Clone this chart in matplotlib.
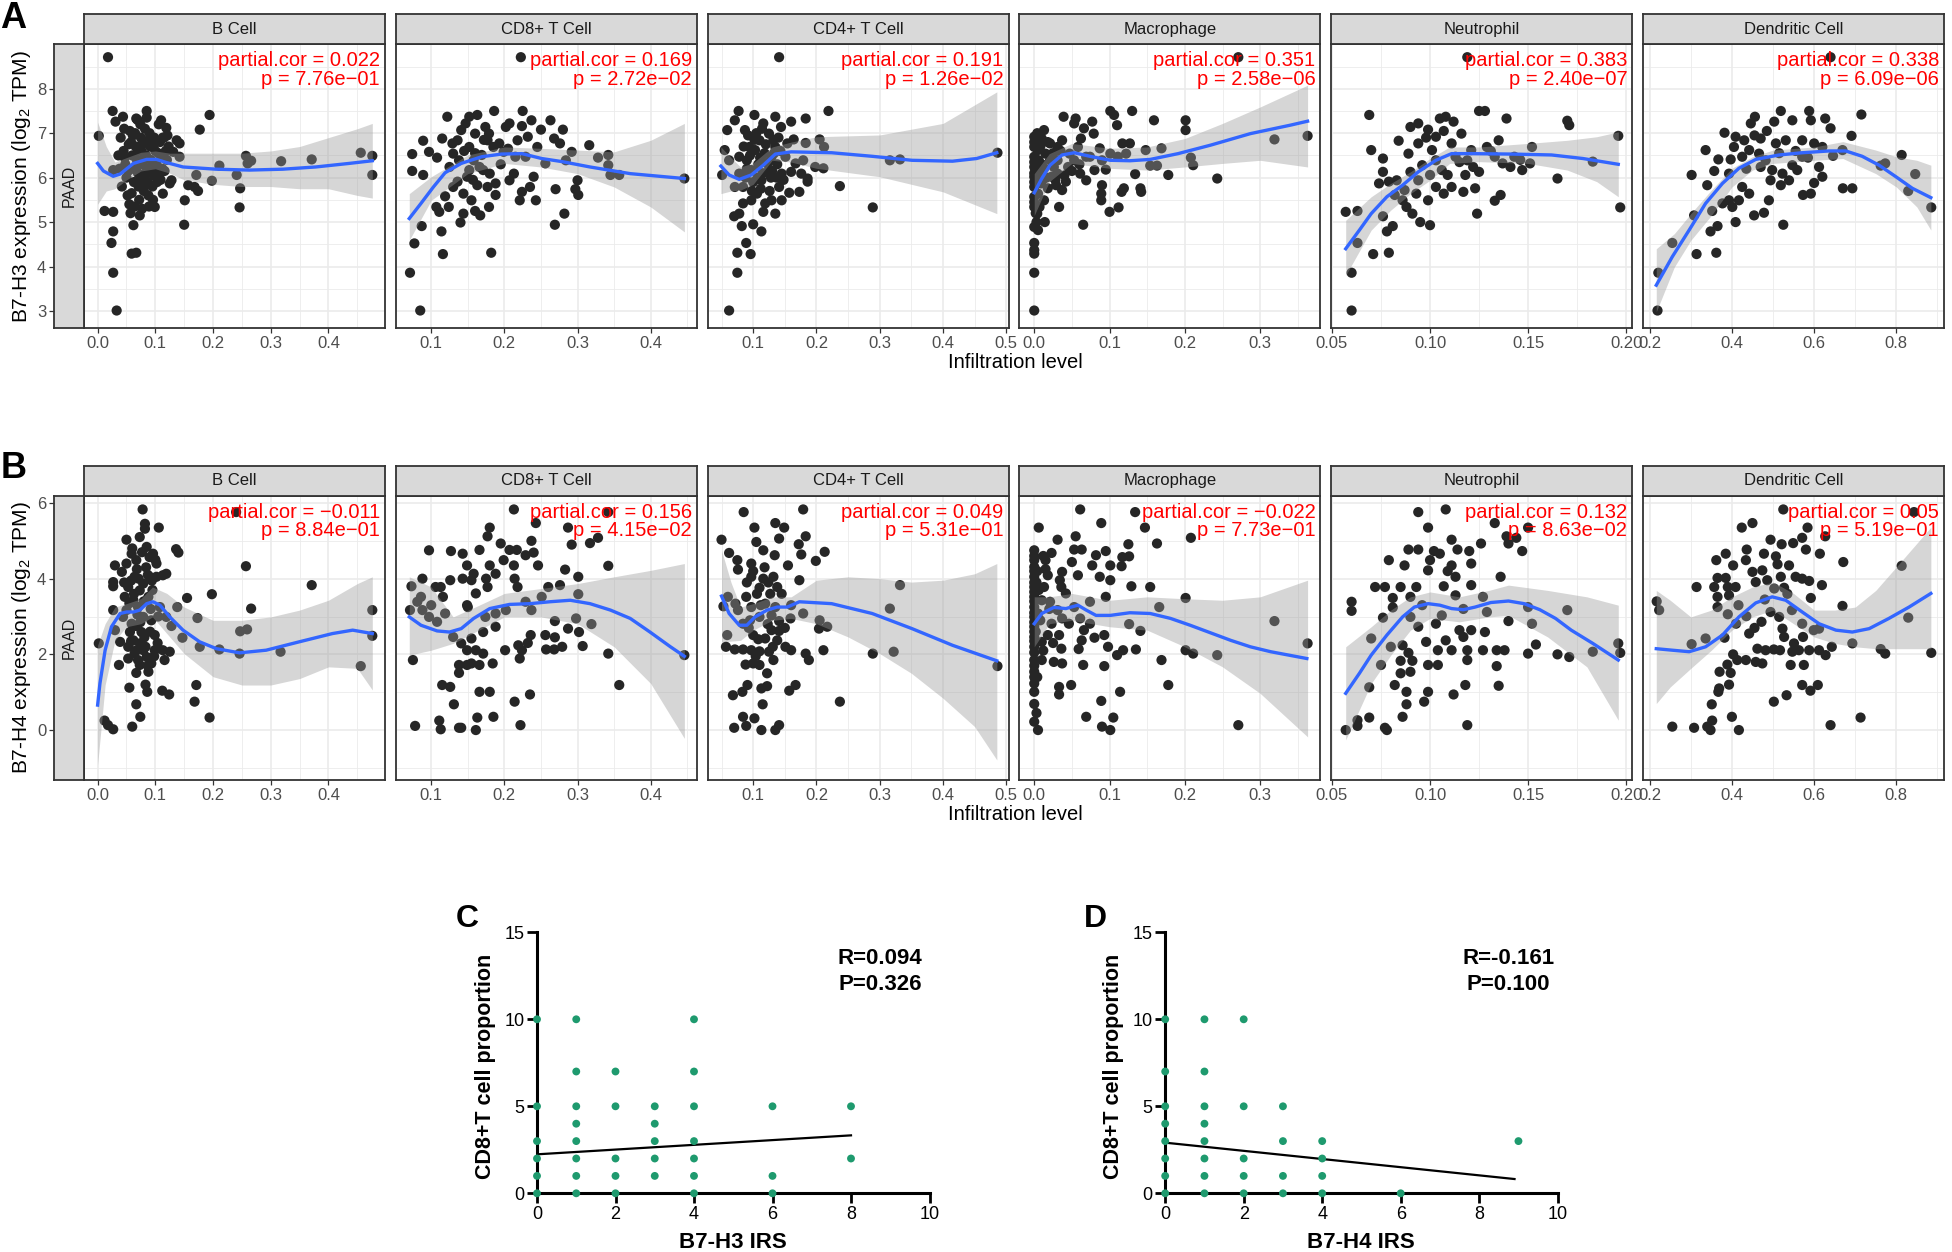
import matplotlib.pyplot as plt

plt.rcParams['font.family'] = ['Liberation Sans', 'DejaVu Sans']
plt.rcParams['mathtext.fontset'] = 'custom'
plt.rcParams['mathtext.rm'] = 'Liberation Sans'
plt.rcParams['mathtext.it'] = 'Liberation Sans:italic'

# ---------------- data: TIMER panels ----------------
cells = ['B Cell', 'CD8+ T Cell', 'CD4+ T Cell', 'Macrophage', 'Neutrophil', 'Dendritic Cell']
x_limits = [(-0.0236, 0.498), (0.0516, 0.463), (0.028, 0.5036),
            (-0.0197, 0.380), (0.0496, 0.2031), (0.1837, 0.916)]
x_major = [[0, .1, .2, .3, .4], [.1, .2, .3, .4], [.1, .2, .3, .4, .5],
           [0, .1, .2, .3], [.05, .10, .15, .20], [.2, .4, .6, .8]]
x_major_labels = [['0.0', '0.1', '0.2', '0.3', '0.4'], ['0.1', '0.2', '0.3', '0.4'],
                  ['0.1', '0.2', '0.3', '0.4', '0.5'], ['0.0', '0.1', '0.2', '0.3'],
                  ['0.05', '0.10', '0.15', '0.20'], ['0.2', '0.4', '0.6', '0.8']]
x_minor = [[.05, .15, .25, .35, .45], [.15, .25, .35, .45], [.05, .15, .25, .35, .45],
           [.05, .15, .25, .35], [.075, .125, .175], [.3, .5, .7, .9]]

h3_cor = ['0.022', '0.169', '0.191', '0.351', '0.383', '0.338']
h3_p = ['7.76e\u221201', '2.72e\u221202', '1.26e\u221202', '2.58e\u221206', '2.40e\u221207', '6.09e\u221206']
h4_cor = ['\u22120.011', '0.156', '0.049', '\u22120.022', '0.132', '0.05']
h4_p = ['8.84e\u221201', '4.15e\u221202', '5.31e\u221201', '7.73e\u221201', '8.63e\u221202', '5.19e\u221201']

# B7-H3 row (points, loess fit, confidence band)
A1_points = [(0.018, 8.71), (0.002, 6.94), (0.026, 7.50), (0.031, 7.26), (0.044, 7.37), (0.085, 7.50),
             (0.194, 7.41), (0.177, 7.08), (0.11, 7.29), (0.067, 7.33), (0.119, 7.12), (0.137, 6.84),
             (0.142, 6.77), (0.027, 6.17), (0.012, 5.25), (0.027, 5.23), (0.027, 4.79), (0.024, 4.53),
             (0.027, 3.86), (0.033, 3.01), (0.059, 4.29), (0.067, 4.31), (0.062, 4.93), (0.073, 5.15),
             (0.099, 5.34), (0.113, 5.64), (0.108, 6.09), (0.125, 5.87), (0.128, 5.94), (0.151, 5.49),
             (0.150, 4.94), (0.157, 5.83), (0.168, 5.79), (0.174, 5.70), (0.171, 6.06), (0.198, 5.93),
             (0.211, 6.27), (0.241, 6.06), (0.247, 5.76), (0.246, 5.33), (0.257, 6.49), (0.260, 6.32),
             (0.266, 6.38), (0.318, 6.37), (0.371, 6.41), (0.456, 6.56), (0.476, 6.49), (0.476, 6.06),
             (0.142, 6.47), (0.131, 6.58),
             (0.040, 6.9), (0.045, 6.6), (0.048, 6.3), (0.050, 6.0), (0.052, 5.6), (0.055, 5.4),
             (0.058, 6.8), (0.060, 6.5), (0.062, 6.2), (0.063, 5.9), (0.065, 7.0), (0.066, 6.7),
             (0.068, 6.4), (0.070, 6.1), (0.071, 5.8), (0.072, 5.5), (0.074, 7.2), (0.075, 6.9),
             (0.076, 6.6), (0.078, 6.3), (0.079, 6.0), (0.080, 5.7), (0.082, 7.1), (0.083, 6.8),
             (0.084, 6.5), (0.086, 6.2), (0.087, 5.9), (0.088, 5.6), (0.090, 7.0), (0.091, 6.7),
             (0.092, 6.4), (0.094, 6.1), (0.095, 5.8), (0.096, 5.5), (0.098, 6.9), (0.100, 6.6),
             (0.102, 6.3), (0.104, 6.0), (0.106, 7.2), (0.108, 6.8), (0.110, 6.5), (0.112, 6.2),
             (0.115, 6.9), (0.118, 6.6), (0.120, 6.4), (0.123, 6.7), (0.036, 6.5), (0.038, 6.2),
             (0.042, 5.8), (0.046, 7.1), (0.054, 6.75), (0.057, 5.2), (0.064, 5.35), (0.069, 7.3),
             (0.077, 5.3), (0.085, 7.35), (0.089, 5.35), (0.097, 6.05), (0.103, 5.9), (0.116, 6.15),
             (0.047, 6.45), (0.053, 6.15), (0.059, 5.65), (0.061, 6.95), (0.067, 6.25), (0.073, 5.95),
             (0.077, 6.75), (0.081, 6.45), (0.085, 5.85), (0.089, 6.85), (0.093, 6.25), (0.097, 6.75),
             (0.101, 6.15), (0.105, 6.55), (0.109, 5.95), (0.113, 6.9), (0.121, 6.95), (0.056, 7.05),
             (0.070, 6.6), (0.083, 6.1)]
A1_fit = [(0.0, 6.32), (0.01, 6.15), (0.027, 6.03), (0.039, 6.08), (0.062, 6.32), (0.085, 6.41),
          (0.102, 6.41), (0.119, 6.34), (0.148, 6.24), (0.205, 6.19), (0.263, 6.17), (0.321, 6.19),
          (0.378, 6.24), (0.436, 6.32), (0.476, 6.38)]
A1_band = [(0.0, 5.4, 7.25), (0.015, 5.7, 6.7), (0.03, 5.75, 6.35), (0.05, 5.95, 6.45), (0.075, 6.15, 6.57),
           (0.1, 6.2, 6.6), (0.125, 6.1, 6.55), (0.15, 5.95, 6.55), (0.2, 5.85, 6.55), (0.25, 5.8, 6.55),
           (0.3, 5.8, 6.6), (0.35, 5.75, 6.7), (0.4, 5.75, 6.9), (0.45, 5.6, 7.1), (0.476, 5.54, 7.22)]

A2_points = [(0.2225, 8.71), (0.071, 3.86), (0.085, 3.01), (0.077, 4.52), (0.087, 4.91), (0.074, 6.53),
             (0.074, 6.15), (0.089, 6.06), (0.089, 6.83), (0.097, 6.58), (0.122, 7.37), (0.115, 6.88),
             (0.108, 6.45), (0.107, 5.34), (0.111, 5.23), (0.114, 4.79), (0.116, 4.28), (0.182, 4.31),
             (0.119, 5.58), (0.124, 5.34), (0.140, 4.99), (0.144, 5.19), (0.160, 5.25), (0.167, 5.15),
             (0.179, 5.34), (0.163, 7.41), (0.186, 7.50), (0.225, 7.50), (0.237, 7.29), (0.263, 7.29),
             (0.280, 7.08), (0.250, 7.08), (0.268, 6.88), (0.276, 6.77), (0.292, 6.58), (0.316, 6.73),
             (0.328, 6.45), (0.342, 6.51), (0.342, 6.28), (0.345, 6.06), (0.357, 6.06), (0.446, 5.98),
             (0.300, 5.94), (0.297, 5.74), (0.301, 5.61), (0.270, 5.74), (0.282, 5.19), (0.269, 4.94),
             (0.221, 5.49), (0.243, 5.49), (0.224, 5.68), (0.235, 5.79), (0.207, 5.94), (0.240, 6.02),
             (0.213, 6.09), (0.202, 7.14), (0.207, 7.22), (0.224, 7.16), (0.232, 6.92), (0.218, 6.84),
             (0.152, 7.37), (0.147, 7.22), (0.141, 7.07), (0.136, 6.84), (0.174, 7.14), (0.177, 6.84),
             (0.130, 6.54), (0.138, 6.39), (0.152, 6.69), (0.169, 6.51), (0.185, 6.69), (0.193, 6.77),
             (0.166, 6.24), (0.180, 6.09), (0.188, 5.87), (0.177, 5.79), (0.163, 5.83), (0.149, 6.02),
             (0.136, 5.91), (0.125, 6.24), (0.130, 5.79), (0.144, 5.64), (0.155, 5.49), (0.188, 5.61),
             (0.152, 6.17), (0.171, 6.17), (0.158, 6.39), (0.199, 6.58), (0.215, 6.47), (0.229, 6.47),
             (0.245, 6.69), (0.256, 6.32), (0.284, 6.39), (0.160, 6.99), (0.179, 6.99), (0.129, 6.77),
             (0.145, 6.6), (0.160, 6.55), (0.172, 6.85), (0.195, 6.3), (0.205, 6.65), (0.157, 5.95)]
A2_fit = [(0.070, 5.08), (0.086, 5.42), (0.103, 5.79), (0.119, 6.11), (0.141, 6.32), (0.169, 6.47),
          (0.196, 6.53), (0.224, 6.54), (0.251, 6.43), (0.279, 6.36), (0.317, 6.24), (0.372, 6.09),
          (0.446, 5.98)]
A2_band = [(0.07, 4.59, 5.64), (0.1, 5.49, 6.02), (0.15, 6.09, 6.51), (0.2, 6.32, 6.69), (0.25, 6.24, 6.66),
           (0.3, 6.09, 6.62), (0.35, 5.79, 6.58), (0.4, 5.34, 6.84), (0.446, 4.78, 7.22)]

A3_points = [(0.141, 8.71), (0.062, 3.01), (0.075, 3.86), (0.075, 4.31), (0.096, 4.28), (0.089, 4.53),
             (0.082, 4.91), (0.100, 4.95), (0.113, 4.79), (0.070, 5.13), (0.078, 5.19), (0.219, 7.50),
             (0.237, 5.81), (0.289, 5.33), (0.486, 6.56), (0.316, 6.39), (0.332, 6.41), (0.051, 6.06),
             (0.059, 7.07), (0.077, 7.50), (0.071, 7.29), (0.102, 7.41), (0.087, 7.07), (0.135, 7.37),
             (0.160, 7.26), (0.183, 7.33), (0.164, 6.86), (0.205, 6.86), (0.212, 6.69), (0.183, 6.78),
             (0.186, 5.98), (0.173, 5.68), (0.157, 5.66), (0.141, 5.79), (0.129, 5.49), (0.135, 5.19),
             (0.116, 5.23), (0.097, 5.49), (0.084, 5.79), (0.071, 5.79), (0.062, 6.39), (0.055, 6.62),
             (0.078, 6.47), (0.094, 6.69), (0.110, 6.84), (0.125, 6.99), (0.144, 7.14), (0.116, 7.22),
             (0.129, 6.47), (0.151, 6.47), (0.167, 6.32), (0.179, 6.39), (0.198, 6.24), (0.211, 6.21),
             (0.097, 6.17), (0.113, 5.94), (0.125, 6.17), (0.145, 6.09), (0.160, 6.13), (0.106, 5.64),
             (0.119, 5.42), (0.084, 5.42), (0.103, 6.62), (0.135, 6.69), (0.154, 6.77), (0.090, 6.39),
             (0.122, 6.32), (0.176, 6.09), (0.078, 6.09), (0.145, 5.49), (0.186, 5.91),
             (0.105, 7.0), (0.118, 6.55), (0.128, 6.0), (0.108, 6.3), (0.132, 6.85), (0.100, 5.9),
             (0.092, 6.95), (0.115, 6.1), (0.138, 6.3), (0.148, 5.95), (0.112, 5.75), (0.126, 5.7),
             (0.085, 6.7), (0.090, 6.2), (0.095, 6.5), (0.102, 6.85), (0.107, 6.0), (0.111, 6.45),
             (0.114, 7.1), (0.120, 6.75), (0.124, 6.35), (0.130, 6.15), (0.133, 6.55), (0.137, 6.0),
             (0.140, 6.9), (0.143, 6.6), (0.098, 5.7), (0.088, 6.0)]
A3_fit = [(0.049, 6.26), (0.062, 6.06), (0.078, 5.96), (0.097, 6.06), (0.116, 6.28), (0.135, 6.53),
          (0.160, 6.58), (0.224, 6.56), (0.288, 6.48), (0.351, 6.39), (0.415, 6.37), (0.453, 6.43),
          (0.485, 6.56)]
A3_band = [(0.049, 5.64, 6.69), (0.065, 5.70, 6.45), (0.08, 5.72, 6.24), (0.1, 5.85, 6.33),
           (0.13, 6.39, 6.69), (0.16, 6.35, 6.8), (0.2, 6.21, 6.92), (0.3, 6.02, 6.96),
           (0.4, 5.68, 7.22), (0.485, 5.19, 7.93)]

A4_points = [(0.271, 8.71), (0.0, 3.01), (0.0, 3.86), (0.0, 4.29), (0.0, 4.37), (0.0, 4.53), (0.0, 4.89),
             (0.005, 4.82), (0.014, 5.0), (0.004, 5.19), (0.007, 5.34), (0.013, 5.49), (0.033, 5.34),
             (0.065, 4.94), (0.1, 5.23), (0.112, 5.33), (0.089, 5.49), (0.089, 5.64), (0.116, 5.68),
             (0.119, 5.76), (0.141, 5.76), (0.142, 5.68), (0.095, 6.18), (0.080, 6.17), (0.069, 5.94),
             (0.061, 6.09), (0.042, 5.91), (0.037, 5.72), (0.029, 5.83), (0.018, 5.76), (0.134, 6.08),
             (0.154, 6.27), (0.163, 6.27), (0.178, 6.06), (0.211, 6.28), (0.208, 6.45), (0.243, 5.98),
             (0.201, 7.07), (0.201, 7.29), (0.159, 7.29), (0.130, 7.50), (0.101, 7.50), (0.106, 7.41),
             (0.110, 7.18), (0.077, 7.26), (0.079, 6.99), (0.066, 7.11), (0.055, 7.33), (0.039, 7.37),
             (0.053, 7.22), (0.013, 7.07), (0.010, 6.88), (0.021, 6.77), (0.037, 6.84), (0.062, 6.88),
             (0.087, 6.66), (0.117, 6.77), (0.127, 6.77), (0.148, 6.62), (0.169, 6.66), (0.122, 6.54),
             (0.101, 6.54), (0.074, 6.47), (0.053, 6.39), (0.031, 6.39), (0.319, 6.86), (0.363, 6.94),
             (0.0, 6.92), (0.0, 6.69), (0.0, 6.47), (0.0, 6.24), (0.0, 6.02), (0.0, 5.79), (0.0, 5.57),
             (0.0, 5.34), (0.005, 6.62), (0.006, 6.39), (0.007, 6.09), (0.009, 5.87), (0.005, 5.64),
             (0.013, 6.21), (0.015, 6.54), (0.021, 6.39), (0.026, 6.24), (0.023, 6.02), (0.031, 6.69),
             (0.045, 6.24), (0.047, 6.54), (0.058, 6.69), (0.069, 6.47), (0.090, 6.39), (0.111, 6.47),
             (0.090, 5.83), (0.031, 6.09), (0.004, 7.0), (0.002, 6.8), (0.003, 6.35), (0.002, 6.1),
             (0.0, 6.8), (0.0, 6.35), (0.0, 6.1), (0.0, 5.9), (0.0, 5.45), (0.002, 5.2), (0.003, 5.0),
             (0.008, 6.7), (0.010, 6.3), (0.011, 5.95), (0.016, 6.0), (0.018, 6.8), (0.025, 6.55),
             (0.028, 5.95), (0.035, 6.6), (0.040, 6.05), (0.050, 6.15), (0.060, 6.3)]
A4_fit = [(0.0, 5.66), (0.010, 5.98), (0.021, 6.28), (0.037, 6.51), (0.053, 6.56), (0.074, 6.48),
          (0.101, 6.39), (0.127, 6.38), (0.154, 6.41), (0.191, 6.54), (0.234, 6.73), (0.287, 6.99),
          (0.340, 7.18), (0.363, 7.27)]
A4_band = [(0.0, 5.15, 6.09), (0.02, 5.91, 6.54), (0.05, 6.32, 6.77), (0.1, 6.21, 6.66), (0.15, 6.17, 6.69),
           (0.2, 6.24, 6.88), (0.25, 6.32, 7.22), (0.3, 6.39, 7.59), (0.363, 6.24, 8.08)]

A5_points = [(0.119, 8.71), (0.060, 3.01), (0.060, 3.86), (0.063, 4.53), (0.057, 5.23), (0.063, 5.25),
             (0.071, 4.28), (0.079, 4.31), (0.078, 4.79), (0.081, 4.91), (0.076, 5.13), (0.069, 7.41),
             (0.070, 6.62), (0.076, 6.43), (0.076, 6.13), (0.074, 5.87), (0.079, 5.91), (0.083, 5.94),
             (0.084, 6.83), (0.089, 6.54), (0.090, 7.14), (0.094, 7.22), (0.099, 7.08), (0.103, 6.92),
             (0.105, 7.33), (0.108, 7.37), (0.112, 7.26), (0.116, 6.99), (0.125, 7.50), (0.128, 7.50),
             (0.139, 7.33), (0.170, 7.28), (0.171, 7.18), (0.196, 6.94), (0.197, 5.33), (0.183, 6.36),
             (0.165, 5.98), (0.124, 5.19), (0.136, 5.61), (0.133, 5.48), (0.117, 5.68), (0.123, 5.76),
             (0.100, 4.93), (0.095, 5.0), (0.091, 5.19), (0.088, 5.34), (0.086, 5.49), (0.082, 5.61),
             (0.099, 5.49), (0.107, 5.64), (0.103, 5.79), (0.111, 5.79), (0.094, 5.94), (0.109, 6.06),
             (0.118, 6.06), (0.125, 6.13), (0.141, 6.24), (0.147, 6.17), (0.151, 6.32), (0.143, 6.47),
             (0.152, 6.69), (0.135, 6.84), (0.129, 6.69), (0.121, 6.62), (0.113, 6.47), (0.103, 6.39),
             (0.096, 6.28), (0.090, 6.13), (0.101, 6.62), (0.094, 6.77), (0.111, 6.77), (0.119, 6.39),
             (0.133, 6.47), (0.137, 6.32), (0.122, 6.24), (0.106, 6.17), (0.100, 6.06), (0.087, 5.72),
             (0.093, 5.64), (0.098, 6.9), (0.107, 7.05), (0.115, 6.35), (0.131, 6.6), (0.146, 6.4)]
A5_fit = [(0.057, 4.40), (0.064, 4.82), (0.070, 5.19), (0.078, 5.57), (0.086, 5.83), (0.094, 6.13),
          (0.103, 6.39), (0.111, 6.54), (0.121, 6.54), (0.142, 6.53), (0.162, 6.51), (0.178, 6.43),
          (0.196, 6.30)]
A5_band = [(0.057, 3.80, 5.04), (0.07, 4.82, 5.57), (0.08, 5.27, 5.87), (0.09, 5.64, 6.13), (0.1, 5.94, 6.43),
           (0.11, 6.32, 6.69), (0.125, 6.36, 6.69), (0.15, 6.32, 6.77), (0.17, 6.17, 6.84),
           (0.185, 5.91, 6.92), (0.196, 5.57, 7.03)]

A6_points = [(0.640, 8.71), (0.219, 3.01), (0.221, 3.86), (0.255, 4.53), (0.308, 5.15), (0.314, 4.28),
             (0.362, 4.31), (0.348, 4.79), (0.365, 4.91), (0.352, 5.25), (0.336, 6.62), (0.302, 6.06),
             (0.357, 6.15), (0.340, 5.83), (0.367, 6.41), (0.382, 7.01), (0.397, 6.41), (0.409, 5.0),
             (0.525, 4.94), (0.454, 5.15), (0.478, 5.21), (0.490, 5.49), (0.519, 5.83), (0.456, 7.37),
             (0.446, 7.22), (0.503, 7.26), (0.519, 7.50), (0.547, 7.29), (0.588, 7.50), (0.592, 7.29),
             (0.627, 7.33), (0.640, 7.11), (0.715, 7.42), (0.691, 6.94), (0.669, 6.62), (0.646, 6.49),
             (0.670, 5.76), (0.693, 5.76), (0.762, 6.27), (0.773, 6.32), (0.813, 6.51), (0.846, 6.08),
             (0.829, 5.70), (0.885, 5.33), (0.592, 5.64), (0.573, 5.61), (0.600, 5.88), (0.620, 6.02),
             (0.612, 6.24), (0.571, 6.47), (0.547, 6.28), (0.523, 6.09), (0.498, 6.17), (0.494, 5.94),
             (0.470, 6.24), (0.442, 6.62), (0.425, 6.47), (0.405, 6.69), (0.409, 6.92), (0.430, 6.84),
             (0.470, 6.88), (0.507, 6.77), (0.531, 6.84), (0.571, 6.84), (0.600, 6.77), (0.620, 6.69),
             (0.393, 6.09), (0.425, 5.79), (0.442, 5.64), (0.393, 5.49), (0.377, 5.42), (0.401, 5.34),
             (0.417, 5.49), (0.539, 5.94), (0.559, 6.17), (0.466, 6.54), (0.482, 6.39),
             (0.455, 6.95), (0.485, 7.05), (0.515, 6.55), (0.555, 6.6), (0.585, 6.45), (0.435, 6.2)]
A6_fit = [(0.216, 3.58), (0.255, 4.22), (0.296, 4.82), (0.336, 5.42), (0.377, 5.87), (0.417, 6.21),
          (0.458, 6.41), (0.515, 6.51), (0.571, 6.56), (0.636, 6.60), (0.677, 6.60), (0.717, 6.48),
          (0.758, 6.28), (0.799, 6.02), (0.839, 5.76), (0.884, 5.55)]
A6_band = [(0.216, 2.98, 4.40), (0.26, 3.99, 4.74), (0.3, 4.59, 5.19), (0.35, 5.15, 5.72), (0.4, 5.79, 6.21),
           (0.45, 6.17, 6.47), (0.5, 6.32, 6.62), (0.6, 6.39, 6.69), (0.67, 6.43, 6.81), (0.75, 6.09, 6.62),
           (0.8, 5.79, 6.47), (0.85, 5.34, 6.39), (0.884, 4.82, 6.28)]

# B7-H4 row
B1_points = [(0.240, 5.76), (0.078, 5.83), (0.082, 5.45), (0.082, 5.32), (0.106, 5.35), (0.050, 5.03),
             (0.136, 4.78), (0.140, 4.69), (0.257, 4.33), (0.371, 3.83), (0.266, 3.21), (0.476, 3.17),
             (0.476, 2.49), (0.456, 1.69), (0.317, 2.07), (0.246, 2.02), (0.247, 2.61), (0.259, 2.66),
             (0.198, 3.59), (0.155, 3.49), (0.138, 3.25), (0.173, 2.96), (0.177, 2.20), (0.211, 2.13),
             (0.147, 2.44), (0.171, 1.19), (0.168, 0.75), (0.194, 0.33), (0.002, 2.29), (0.012, 0.25),
             (0.018, 0.13), (0.027, 0.02), (0.037, 1.72), (0.055, 1.12), (0.067, 0.68), (0.074, 0.35),
             (0.060, 0.09), (0.083, 1.20), (0.086, 1.01), (0.112, 1.04), (0.124, 0.94), (0.067, 1.51),
             (0.027, 3.91), (0.027, 3.80), (0.027, 3.17), (0.030, 2.64), (0.042, 4.18), (0.030, 4.35),
             (0.059, 4.66), (0.067, 4.49), (0.073, 5.10), (0.085, 4.84), (0.096, 4.66), (0.102, 4.40),
             (0.090, 4.57), (0.064, 4.05), (0.053, 3.78), (0.047, 3.52), (0.062, 3.43), (0.079, 3.87),
             (0.090, 4.05), (0.102, 4.05), (0.113, 4.09), (0.119, 4.13), (0.073, 3.69), (0.088, 3.52),
             (0.050, 3.17), (0.070, 3.25), (0.079, 2.99), (0.093, 2.90), (0.059, 2.81), (0.044, 2.99),
             (0.039, 2.33), (0.053, 2.20), (0.062, 2.37), (0.073, 2.29), (0.064, 2.02), (0.079, 2.11),
             (0.085, 1.93), (0.093, 1.76), (0.099, 2.11), (0.113, 2.11), (0.125, 2.07), (0.116, 1.85),
             (0.099, 2.51), (0.119, 2.99), (0.128, 2.75), (0.108, 3.25), (0.076, 2.59), (0.056, 2.59),
             (0.053, 1.89), (0.073, 1.72), (0.088, 1.54), (0.058, 3.95), (0.068, 4.25), (0.084, 4.3),
             (0.095, 3.7), (0.066, 2.75), (0.081, 2.45), (0.092, 3.2), (0.104, 2.3), (0.069, 3.05),
             (0.046, 3.9), (0.050, 4.4), (0.055, 3.35), (0.058, 2.35), (0.060, 4.8), (0.063, 3.6),
             (0.066, 2.1), (0.071, 4.0), (0.074, 2.85), (0.077, 4.7), (0.080, 3.4), (0.083, 2.2),
             (0.087, 4.1), (0.091, 2.6), (0.094, 3.95), (0.098, 1.95), (0.100, 4.5), (0.105, 3.0),
             (0.087, 1.7), (0.070, 1.85)]
B1_fit = [(0.0, 0.66), (0.004, 1.23), (0.013, 2.11), (0.024, 2.73), (0.039, 3.08), (0.050, 3.12),
          (0.062, 3.12), (0.073, 3.17), (0.085, 3.34), (0.096, 3.39), (0.108, 3.30), (0.125, 2.99),
          (0.148, 2.64), (0.177, 2.33), (0.206, 2.15), (0.246, 2.04), (0.292, 2.11), (0.349, 2.33),
          (0.407, 2.55), (0.442, 2.64), (0.476, 2.55)]
B1_band = [(0.0, -0.92, 2.24), (0.013, 1.19, 2.81), (0.03, 2.37, 3.25), (0.05, 2.73, 3.34), (0.075, 2.81, 3.47),
           (0.095, 2.99, 3.78), (0.12, 2.55, 3.61), (0.15, 2.02, 3.25), (0.2, 1.41, 2.90), (0.25, 1.19, 2.90),
           (0.3, 1.19, 2.99), (0.35, 1.36, 3.17), (0.4, 1.67, 3.43), (0.45, 1.63, 3.87), (0.476, 1.06, 4.05)]

B2_points = [(0.213, 5.83), (0.342, 5.76), (0.243, 5.47), (0.287, 5.35), (0.328, 5.08), (0.317, 4.94),
             (0.292, 4.90), (0.180, 5.35), (0.177, 5.12), (0.195, 4.93), (0.097, 4.75), (0.127, 4.73),
             (0.143, 4.66), (0.166, 4.76), (0.207, 4.76), (0.217, 4.76), (0.237, 5.0), (0.240, 4.69),
             (0.246, 4.35), (0.229, 4.62), (0.199, 4.49), (0.213, 4.35), (0.342, 4.34), (0.301, 4.05),
             (0.283, 4.24), (0.276, 3.83), (0.260, 3.78), (0.214, 4.0), (0.218, 3.78), (0.180, 4.35),
             (0.188, 4.13), (0.175, 4.0), (0.149, 4.35), (0.158, 4.13), (0.155, 3.96), (0.161, 3.61),
             (0.177, 3.78), (0.143, 4.0), (0.126, 3.96), (0.113, 3.78), (0.106, 3.78), (0.088, 4.0),
             (0.073, 3.80), (0.086, 3.52), (0.100, 3.30), (0.116, 3.52), (0.150, 3.25), (0.149, 3.30),
             (0.119, 3.08), (0.108, 2.86), (0.071, 3.17), (0.088, 3.17), (0.301, 3.59), (0.251, 3.52),
             (0.229, 3.39), (0.202, 3.17), (0.188, 3.08), (0.174, 2.99), (0.237, 3.17), (0.269, 2.88),
             (0.287, 2.68), (0.298, 2.95), (0.319, 2.80), (0.302, 2.59), (0.256, 2.51), (0.269, 2.45),
             (0.236, 2.51), (0.219, 2.24), (0.224, 2.11), (0.232, 2.30), (0.221, 1.89), (0.257, 2.13),
             (0.268, 2.13), (0.279, 2.20), (0.307, 2.22), (0.342, 2.02), (0.446, 1.98), (0.357, 1.19),
             (0.235, 0.94), (0.214, 0.75), (0.222, 0.13), (0.185, 0.35), (0.163, 0.33), (0.161, 0.0),
             (0.141, 0.06), (0.138, 0.06), (0.113, 0.02), (0.111, 0.25), (0.078, 0.11), (0.131, 0.68),
             (0.115, 1.19), (0.126, 1.14), (0.166, 1.01), (0.180, 1.01), (0.138, 1.51), (0.138, 1.72),
             (0.149, 1.72), (0.155, 1.76), (0.166, 1.72), (0.184, 1.76), (0.149, 2.11), (0.161, 2.11),
             (0.171, 2.02), (0.201, 2.11), (0.155, 2.42), (0.171, 2.59), (0.188, 2.73), (0.075, 1.85),
             (0.141, 2.29), (0.130, 2.46), (0.097, 2.99), (0.081, 3.39)]
B2_fit = [(0.070, 2.99), (0.086, 2.77), (0.108, 2.62), (0.125, 2.59), (0.141, 2.68), (0.158, 2.95),
          (0.180, 3.21), (0.207, 3.32), (0.235, 3.34), (0.262, 3.39), (0.290, 3.43), (0.317, 3.34),
          (0.345, 3.17), (0.372, 2.95), (0.399, 2.59), (0.427, 2.20), (0.446, 1.95)]
B2_band = [(0.07, 1.98, 4.05), (0.1, 2.11, 3.78), (0.13, 2.29, 2.99), (0.16, 2.59, 3.25), (0.2, 2.99, 3.61),
           (0.25, 2.99, 3.74), (0.3, 2.81, 3.87), (0.35, 2.20, 4.05), (0.4, 1.23, 4.22), (0.446, -0.22, 4.40)]

B3_points = [(0.085, 5.76), (0.179, 5.83), (0.135, 5.47), (0.149, 5.35), (0.102, 5.35), (0.050, 5.03),
             (0.141, 5.06), (0.183, 5.12), (0.172, 4.91), (0.176, 4.64), (0.213, 4.71), (0.199, 4.47),
             (0.062, 4.68), (0.075, 4.49), (0.105, 4.97), (0.116, 4.75), (0.134, 4.62), (0.155, 4.35),
             (0.097, 4.40), (0.076, 4.24), (0.097, 4.05), (0.116, 4.0), (0.132, 4.05), (0.173, 3.96),
             (0.332, 3.83), (0.138, 3.78), (0.110, 3.76), (0.089, 3.52), (0.072, 3.34), (0.060, 3.52),
             (0.053, 3.27), (0.076, 3.17), (0.097, 3.25), (0.119, 3.34), (0.135, 3.25), (0.160, 3.30),
             (0.179, 3.08), (0.316, 3.21), (0.110, 2.99), (0.129, 3.03), (0.141, 2.88), (0.159, 2.95),
             (0.205, 2.90), (0.217, 2.73), (0.204, 2.68), (0.084, 2.81), (0.100, 2.51), (0.141, 2.62),
             (0.059, 2.51), (0.119, 2.42), (0.138, 2.37), (0.151, 2.20), (0.160, 2.11), (0.183, 2.02),
             (0.188, 1.85), (0.211, 2.11), (0.289, 2.02), (0.322, 2.07), (0.486, 1.69), (0.057, 2.20),
             (0.071, 2.13), (0.084, 2.13), (0.097, 2.11), (0.110, 2.08), (0.132, 1.85), (0.125, 2.07),
             (0.088, 1.73), (0.100, 1.76), (0.110, 1.72), (0.122, 1.50), (0.091, 1.19), (0.113, 1.10),
             (0.122, 1.16), (0.167, 1.19), (0.157, 1.04), (0.237, 0.75), (0.068, 0.92), (0.083, 1.01),
             (0.115, 0.68), (0.084, 0.35), (0.102, 0.31), (0.070, 0.06), (0.089, 0.11), (0.113, 0.0),
             (0.135, 0.0), (0.141, 0.13), (0.129, 2.64), (0.106, 3.6), (0.124, 3.9), (0.093, 2.7),
             (0.090, 3.9), (0.095, 2.9), (0.100, 4.2), (0.108, 2.4), (0.112, 3.3), (0.118, 4.3),
             (0.123, 2.8), (0.127, 3.6), (0.131, 2.2), (0.145, 3.6), (0.150, 2.7), (0.104, 1.95)]
B3_fit = [(0.050, 3.54), (0.062, 3.08), (0.078, 2.77), (0.090, 2.77), (0.103, 2.99), (0.122, 3.17),
          (0.138, 3.25), (0.154, 3.25), (0.173, 3.39), (0.224, 3.34), (0.288, 3.08), (0.351, 2.68),
          (0.415, 2.24), (0.485, 1.83)]
B3_band = [(0.05, 2.33, 4.75), (0.065, 2.35, 3.9), (0.08, 2.37, 3.25), (0.1, 2.64, 3.34), (0.13, 2.90, 3.52),
           (0.16, 2.95, 3.52), (0.2, 2.81, 3.96), (0.25, 2.46, 4.05), (0.3, 2.02, 4.0), (0.35, 1.50, 3.91),
           (0.4, 0.84, 3.96), (0.45, 0.09, 4.13), (0.485, -0.79, 4.40)]

B4_points = [(0.061, 5.83), (0.134, 5.76), (0.089, 5.47), (0.147, 5.35), (0.006, 5.35), (0.208, 5.08),
             (0.163, 4.93), (0.125, 4.91), (0.055, 5.12), (0.031, 5.03), (0.053, 4.77), (0.063, 4.77),
             (0.095, 4.73), (0.082, 4.62), (0.117, 4.57), (0.126, 4.59), (0.116, 4.33), (0.101, 4.35),
             (0.077, 4.35), (0.050, 4.44), (0.023, 4.68), (0.015, 4.49), (0.0, 4.75), (0.0, 4.49),
             (0.0, 4.31), (0.0, 4.05), (0.0, 3.78), (0.0, 3.52), (0.0, 3.25), (0.0, 2.99), (0.0, 2.73),
             (0.0, 2.46), (0.0, 2.20), (0.0, 1.85), (0.0, 1.54), (0.0, 1.23), (0.0, 1.01), (0.0, 0.69),
             (0.0, 0.22), (0.005, 0.0), (0.005, 3.08), (0.010, 3.43), (0.018, 4.09), (0.013, 3.78),
             (0.023, 2.81), (0.018, 2.51), (0.010, 2.33), (0.010, 1.85), (0.026, 1.80), (0.034, 3.96),
             (0.037, 4.18), (0.036, 3.78), (0.031, 3.17), (0.033, 2.51), (0.036, 2.15), (0.037, 1.76),
             (0.033, 1.14), (0.033, 0.94), (0.049, 1.19), (0.046, 2.81), (0.053, 3.25), (0.058, 4.09),
             (0.066, 2.64), (0.063, 2.37), (0.059, 2.14), (0.065, 1.72), (0.069, 0.35), (0.074, 3.39),
             (0.080, 2.44), (0.087, 4.05), (0.093, 2.51), (0.095, 3.52), (0.101, 3.96), (0.098, 2.20),
             (0.093, 1.69), (0.089, 0.77), (0.090, 0.09), (0.101, 0.0), (0.105, 0.33), (0.114, 1.01),
             (0.110, 1.98), (0.118, 2.11), (0.126, 2.80), (0.141, 2.62), (0.135, 2.13), (0.129, 3.80),
             (0.154, 3.78), (0.166, 3.25), (0.169, 1.85), (0.178, 1.19), (0.201, 3.49), (0.201, 2.11),
             (0.211, 2.02), (0.243, 1.98), (0.271, 0.13), (0.319, 2.88), (0.363, 2.29), (0.042, 3.61),
             (0.021, 3.39), (0.061, 2.95), (0.037, 2.95), (0.074, 2.81), (0.004, 4.2), (0.003, 3.9),
             (0.002, 2.6), (0.004, 1.4), (0.003, 0.45), (0.012, 4.6),
             (0.0, 4.6), (0.0, 4.2), (0.0, 3.9), (0.0, 3.65), (0.0, 3.4), (0.0, 3.1), (0.0, 2.85),
             (0.0, 2.6), (0.0, 2.35), (0.0, 2.05), (0.0, 1.7), (0.0, 1.4), (0.006, 3.7), (0.008, 2.9),
             (0.012, 2.1), (0.015, 4.25), (0.020, 3.2), (0.025, 2.3)]
B4_fit = [(0.0, 2.81), (0.010, 3.08), (0.026, 3.24), (0.042, 3.21), (0.058, 3.30), (0.069, 3.17),
          (0.082, 3.03), (0.101, 3.03), (0.127, 3.10), (0.154, 3.08), (0.181, 2.95), (0.207, 2.77),
          (0.234, 2.57), (0.261, 2.37), (0.287, 2.20), (0.314, 2.07), (0.362, 1.89)]
B4_band = [(0.0, 2.20, 3.52), (0.02, 2.81, 3.52), (0.05, 2.90, 3.61), (0.1, 2.73, 3.43), (0.15, 2.64, 3.52),
           (0.2, 2.20, 3.47), (0.25, 1.67, 3.43), (0.3, 0.97, 3.52), (0.363, -0.18, 3.96)]

B5_points = [(0.094, 5.76), (0.108, 5.83), (0.099, 5.35), (0.133, 5.47), (0.139, 5.12), (0.144, 5.08),
             (0.150, 5.35), (0.140, 4.93), (0.147, 4.73), (0.111, 5.03), (0.126, 4.93), (0.089, 4.77),
             (0.094, 4.77), (0.102, 4.73), (0.105, 4.66), (0.114, 4.77), (0.120, 4.73), (0.079, 4.49),
             (0.087, 4.35), (0.100, 4.49), (0.111, 4.35), (0.121, 4.40), (0.099, 4.22), (0.113, 4.05),
             (0.121, 3.83), (0.136, 4.05), (0.072, 3.78), (0.077, 3.78), (0.085, 3.78), (0.093, 3.78),
             (0.107, 3.80), (0.081, 3.49), (0.090, 3.52), (0.113, 3.56), (0.127, 3.52), (0.060, 3.39),
             (0.060, 3.15), (0.081, 3.24), (0.076, 2.97), (0.090, 2.99), (0.106, 3.03), (0.129, 3.12),
             (0.140, 2.88), (0.150, 3.25), (0.152, 2.81), (0.170, 3.17), (0.094, 2.73), (0.103, 2.81),
             (0.115, 2.64), (0.121, 2.64), (0.128, 2.59), (0.070, 2.42), (0.086, 2.24), (0.098, 2.33),
             (0.108, 2.37), (0.117, 2.46), (0.080, 2.20), (0.089, 2.04), (0.104, 2.11), (0.111, 2.11),
             (0.119, 2.11), (0.127, 2.11), (0.134, 2.11), (0.138, 2.11), (0.154, 2.26), (0.150, 2.02),
             (0.165, 2.0), (0.171, 1.93), (0.183, 2.07), (0.196, 2.29), (0.197, 2.04), (0.075, 1.72),
             (0.085, 1.83), (0.091, 1.83), (0.099, 1.72), (0.104, 1.72), (0.119, 1.85), (0.134, 1.69),
             (0.085, 1.50), (0.090, 1.54), (0.069, 1.13), (0.082, 1.19), (0.088, 1.01), (0.099, 1.01),
             (0.118, 1.19), (0.135, 1.17), (0.112, 0.94), (0.088, 0.68), (0.097, 0.75), (0.086, 0.35),
             (0.069, 0.33), (0.063, 0.26), (0.063, 0.11), (0.057, 0.0), (0.077, 0.06), (0.078, 0.0),
             (0.119, 0.13), (0.096, 3.3), (0.109, 4.2), (0.117, 3.2)]
B5_fit = [(0.057, 0.97), (0.064, 1.50), (0.070, 1.98), (0.078, 2.51), (0.086, 2.99), (0.092, 3.25),
          (0.099, 3.34), (0.105, 3.30), (0.111, 3.21), (0.117, 3.18), (0.123, 3.25), (0.131, 3.37),
          (0.140, 3.41), (0.148, 3.34), (0.156, 3.18), (0.164, 2.95), (0.172, 2.64), (0.183, 2.29),
          (0.196, 1.85)]
B5_band = [(0.057, -0.26, 2.20), (0.07, 1.23, 2.73), (0.08, 1.98, 3.17), (0.09, 2.64, 3.52), (0.1, 2.95, 3.65),
           (0.115, 2.86, 3.52), (0.13, 2.99, 3.69), (0.14, 3.03, 3.83), (0.16, 2.46, 3.69), (0.18, 1.67, 3.52),
           (0.196, 0.26, 3.30)]

B6_points = [(0.525, 5.83), (0.843, 5.76), (0.450, 5.47), (0.424, 5.35), (0.584, 5.35), (0.627, 5.12),
             (0.494, 5.03), (0.521, 4.91), (0.549, 4.94), (0.571, 5.08), (0.580, 4.77), (0.614, 4.66),
             (0.436, 4.77), (0.385, 4.66), (0.362, 4.49), (0.403, 4.35), (0.434, 4.49), (0.478, 4.66),
             (0.507, 4.59), (0.511, 4.38), (0.539, 4.35), (0.671, 4.44), (0.813, 4.34), (0.450, 4.18),
             (0.474, 4.22), (0.365, 4.02), (0.385, 4.02), (0.458, 3.91), (0.486, 3.96), (0.519, 4.05),
             (0.555, 4.05), (0.571, 4.0), (0.588, 3.94), (0.314, 3.78), (0.357, 3.78), (0.390, 3.78),
             (0.409, 3.78), (0.619, 3.83), (0.365, 3.52), (0.393, 3.56), (0.503, 3.74), (0.527, 3.76),
             (0.592, 3.49), (0.217, 3.40), (0.223, 3.17), (0.365, 3.25), (0.416, 3.30), (0.669, 3.28),
             (0.390, 3.06), (0.435, 3.01), (0.494, 3.12), (0.515, 2.99), (0.546, 3.17), (0.472, 2.86),
             (0.410, 2.81), (0.523, 2.68), (0.571, 2.81), (0.612, 2.68), (0.829, 2.97), (0.442, 2.55),
             (0.527, 2.46), (0.551, 2.29), (0.573, 2.46), (0.599, 2.64), (0.302, 2.27), (0.336, 2.42),
             (0.382, 2.44), (0.462, 2.15), (0.482, 2.11), (0.502, 2.13), (0.517, 2.11), (0.547, 2.07),
             (0.563, 2.11), (0.588, 2.11), (0.612, 2.11), (0.628, 1.98), (0.643, 2.20), (0.693, 2.29),
             (0.762, 2.14), (0.773, 2.02), (0.885, 2.04), (0.403, 2.0), (0.413, 1.85), (0.434, 1.85),
             (0.458, 1.80), (0.474, 1.76), (0.389, 1.73), (0.370, 1.54), (0.397, 1.51), (0.393, 1.20),
             (0.369, 1.10), (0.367, 1.01), (0.351, 0.68), (0.543, 1.72), (0.575, 1.72), (0.571, 1.19),
             (0.591, 1.04), (0.609, 1.19), (0.533, 0.92), (0.502, 0.75), (0.400, 0.35), (0.713, 0.33),
             (0.640, 0.13), (0.255, 0.09), (0.308, 0.06), (0.340, 0.09), (0.348, 0.0), (0.352, 0.25),
             (0.417, 0.0), (0.48, 3.45), (0.535, 3.6), (0.455, 2.7)]
B6_fit = [(0.216, 2.15), (0.255, 2.11), (0.296, 2.07), (0.336, 2.20), (0.377, 2.51), (0.417, 2.99),
          (0.458, 3.36), (0.498, 3.52), (0.531, 3.43), (0.571, 3.12), (0.612, 2.81), (0.653, 2.64),
          (0.693, 2.59), (0.734, 2.68), (0.782, 2.95), (0.831, 3.25), (0.884, 3.61)]
B6_band = [(0.216, 0.70, 3.69), (0.25, 1.14, 3.43), (0.3, 1.63, 2.99), (0.35, 2.11, 3.17), (0.4, 2.64, 3.52),
           (0.45, 2.99, 3.78), (0.5, 3.17, 3.91), (0.55, 2.81, 3.61), (0.6, 2.46, 3.17), (0.65, 2.29, 3.17),
           (0.7, 2.20, 3.25), (0.75, 2.15, 3.69), (0.8, 2.15, 4.31), (0.884, 2.15, 5.36)]

# ---------------- data: IHC panels ----------------
C_points = [(0, 10), (0, 5), (0, 3), (0, 2), (0, 1), (0, 0),
            (1, 10), (1, 7), (1, 5), (1, 4), (1, 3), (1, 2), (1, 1), (1, 0),
            (2, 7), (2, 5), (2, 2), (2, 1), (2, 0),
            (3, 5), (3, 4), (3, 3), (3, 2), (3, 1),
            (4, 10), (4, 7), (4, 5), (4, 3), (4, 2), (4, 1), (4, 0),
            (6, 5), (6, 1), (6, 0), (8, 5), (8, 2)]
C_line_x = [0, 8]
C_line_y = [2.24, 3.33]

D_points = [(0, 10), (0, 7), (0, 5), (0, 4), (0, 3), (0, 2), (0, 1), (0, 0),
            (1, 10), (1, 7), (1, 5), (1, 4), (1, 3), (1, 2), (1, 1), (1, 0),
            (2, 10), (2, 5), (2, 2), (2, 1), (2, 0),
            (3, 5), (3, 3), (3, 1), (3, 0),
            (4, 3), (4, 2), (4, 1), (4, 0), (6, 0), (9, 3)]
D_line_x = [0, 8.9]
D_line_y = [2.91, 0.82]

# ---------------- drawing ----------------
W, H = 1952, 1252
fig = plt.figure(figsize=(W / 100, H / 100), dpi=100)


def box(left, top, w, h):
    return [left / W, 1 - (top + h) / H, w / W, h / H]


def style_frame(ax, color='#333333', lw=1.3):
    for s in ax.spines.values():
        s.set_color(color)
        s.set_linewidth(lw)


def draw_row(top, points, fits, bands, cors, ps, ylim, yticks, yminor, ylabel):
    strip_h = 30.3
    panel_h = 284
    ptop = top + strip_h
    for i in range(6):
        left = 84 + i * 311.8
        ax = fig.add_axes(box(left, ptop, 301, panel_h))
        xs = [p[0] for p in points[i]]
        ys = [p[1] for p in points[i]]
        ax.scatter(xs, ys, s=54, color='#262626', edgecolors='none', zorder=2)
        bx = [b[0] for b in bands[i]]
        ax.fill_between(bx, [b[1] for b in bands[i]], [b[2] for b in bands[i]],
                        color='#999999', alpha=0.4, lw=0, zorder=3)
        ax.plot([f[0] for f in fits[i]], [f[1] for f in fits[i]], color='#3366FF', lw=2.4, zorder=4)
        ax.set_xlim(*x_limits[i])
        ax.set_ylim(*ylim)
        ax.set_xticks(x_major[i])
        ax.set_xticklabels(x_major_labels[i])
        ax.set_xticks(x_minor[i], minor=True)
        ax.set_yticks(yticks)
        ax.set_yticks(yminor, minor=True)
        ax.set_axisbelow(True)
        ax.grid(which='major', color='#EBEBEB', lw=1.2)
        ax.grid(which='minor', color='#EBEBEB', lw=0.6)
        ax.tick_params(axis='x', which='major', length=3.5, width=0.9, color='#333333',
                       labelsize=12, labelcolor='#4D4D4D', pad=2)
        ax.tick_params(which='minor', length=0)
        ax.tick_params(axis='y', which='both', left=False, labelleft=False)
        style_frame(ax)
        ax.text(1 - 5 / 301, 1 - 16 / panel_h, 'partial.cor = ' + cors[i], transform=ax.transAxes,
                ha='right', va='center', color='red', fontsize=14.5, zorder=6)
        ax.text(1 - 5 / 301, 1 - 35 / panel_h, 'p = ' + ps[i], transform=ax.transAxes,
                ha='right', va='center', color='red', fontsize=14.5, zorder=6)

        sax = fig.add_axes(box(left, top, 301, strip_h))
        sax.set_facecolor('#D9D9D9')
        sax.set_xticks([])
        sax.set_yticks([])
        style_frame(sax)
        sax.text(0.5, 0.5, cells[i], ha='center', va='center', fontsize=12, color='#1A1A1A',
                 transform=sax.transAxes)

    pax = fig.add_axes(box(54, ptop, 30, panel_h))
    pax.set_facecolor('#D9D9D9')
    pax.set_ylim(*ylim)
    pax.set_yticks(yticks)
    pax.set_yticklabels([str(t) for t in yticks])
    pax.set_xticks([])
    pax.tick_params(axis='y', length=3.5, width=0.9, color='#333333', labelsize=12,
                    labelcolor='#4D4D4D', pad=2)
    style_frame(pax)
    pax.text(0.5, 0.5, 'PAAD', rotation=90, ha='center', va='center', fontsize=11.5,
             color='#1A1A1A', transform=pax.transAxes)

    fig.text(22 / W, 1 - (ptop + panel_h / 2) / H, ylabel, rotation=90, ha='center', va='center',
             fontsize=15)
    fig.text(1015 / W, 1 - (ptop + panel_h + 34) / H, 'Infiltration level', ha='center',
             va='center', fontsize=14.5)


draw_row(14, [A1_points, A2_points, A3_points, A4_points, A5_points, A6_points],
         [A1_fit, A2_fit, A3_fit, A4_fit, A5_fit, A6_fit],
         [A1_band, A2_band, A3_band, A4_band, A5_band, A6_band],
         h3_cor, h3_p, (2.61, 9.0), [3, 4, 5, 6, 7, 8], [3.5, 4.5, 5.5, 6.5, 7.5, 8.5],
         r'B7-H3 expression (log$_2$ TPM)')
draw_row(465.7, [B1_points, B2_points, B3_points, B4_points, B5_points, B6_points],
         [B1_fit, B2_fit, B3_fit, B4_fit, B5_fit, B6_fit],
         [B1_band, B2_band, B3_band, B4_band, B5_band, B6_band],
         h4_cor, h4_p, (-1.32, 6.185), [0, 2, 4, 6], [-1, 1, 3, 5],
         r'B7-H4 expression (log$_2$ TPM)')

fig.text(13.5 / W, 1 - 18 / H, 'A', fontsize=26, fontweight='bold', ha='center', va='center')
fig.text(14 / W, 1 - 469 / H, 'B', fontsize=26, fontweight='bold', ha='center', va='center')


def draw_irs(left, pts, lx, ly, r_txt, p_txt, xlabel, letter):
    ax = fig.add_axes(box(left, 932.3, 392.5, 261))
    ax.plot(lx, ly, color='black', lw=1.6, zorder=4)
    ax.scatter([p[0] for p in pts], [p[1] for p in pts], s=32, color='#1E9A6E',
               edgecolors='none', zorder=5, clip_on=False)
    ax.set_xlim(0, 10)
    ax.set_ylim(0, 15)
    ax.set_xticks([0, 2, 4, 6, 8, 10])
    ax.set_yticks([0, 5, 10, 15])
    for s in ['top', 'right']:
        ax.spines[s].set_visible(False)
    for s in ['left', 'bottom']:
        ax.spines[s].set_linewidth(2.2)
        ax.spines[s].set_color('black')
    ax.tick_params(length=7, width=2, labelsize=13, pad=2, color='black')
    ax.patch.set_alpha(0)
    fig.text((left - 52) / W, 1 - 1066 / H, 'CD8+T cell proportion', rotation=90, ha='center',
             va='center', fontsize=15.5, fontweight='bold')
    fig.text((left + 196) / W, 1 - 1243 / H, xlabel, ha='center', va='center',
             fontsize=16, fontweight='bold')
    fig.text((left + 343) / W, 1 - 959 / H, r_txt, ha='center', va='center',
             fontsize=16, fontweight='bold')
    fig.text((left + 343) / W, 1 - 984 / H, p_txt, ha='center', va='center',
             fontsize=16, fontweight='bold')
    fig.text((left - 70) / W, 1 - 919 / H, letter, ha='center', va='center',
             fontsize=23, fontweight='bold')


draw_irs(537, C_points, C_line_x, C_line_y, 'R=0.094', 'P=0.326', 'B7-H3 IRS', 'C')
draw_irs(1165.2, D_points, D_line_x, D_line_y, 'R=-0.161', 'P=0.100', 'B7-H4 IRS', 'D')

fig.savefig('out.png', dpi=100)
